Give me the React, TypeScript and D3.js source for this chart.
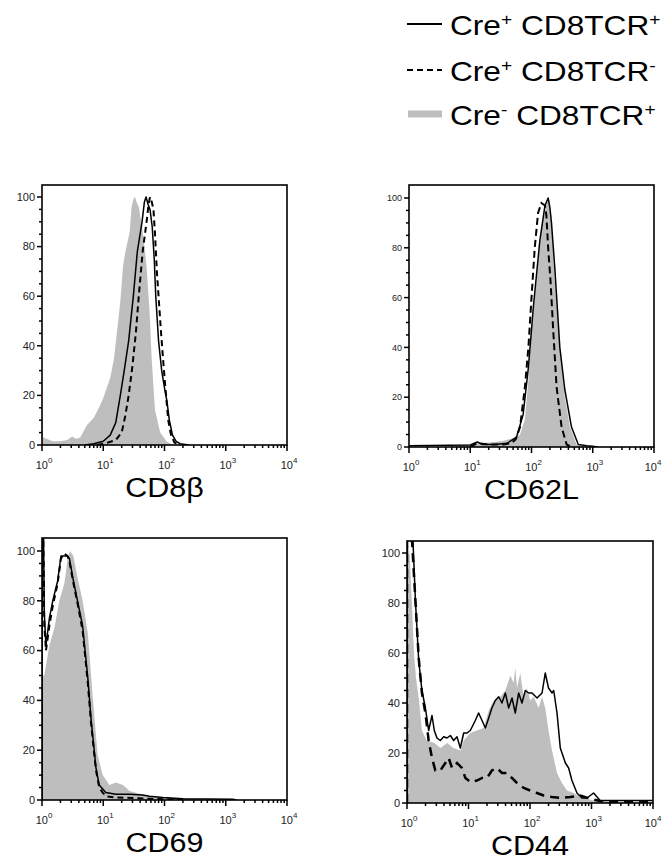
import React, { useEffect, useRef } from 'react';
import * as d3 from 'd3';

type Pt = [number, number];

// [fluorescence, % of max]
const cd8bGray: Pt[] = [[1, 0], [1, 15], [1.05, 3], [1.5, 1.5], [2, 1.5], [2.6, 2], [3.1, 3.4], [3.6, 2.5], [4.2, 3], [5.4, 8], [7, 11], [8.9, 16], [10, 19], [13, 27], [15, 35], [17, 47], [19, 58], [21, 72], [23, 78], [25, 82], [27, 86], [29, 96], [31, 99], [33, 100], [35, 98], [38, 96], [43, 88], [47, 80], [51, 72], [57, 54], [62, 34], [70, 14], [85, 5], [109, 1.3], [140, 0]];
const cd8bSolid: Pt[] = [[5, 0], [7, 0.5], [10, 1.5], [13, 4], [16, 9], [19, 20], [22, 30], [26, 42], [31, 60], [36, 78], [43, 90], [47, 98], [50, 100], [54, 97], [58, 95], [63, 88], [68, 75], [72, 60], [80, 42], [90, 30], [100, 23], [109, 18], [120, 10], [135, 4], [155, 1.5], [180, 0.5], [250, 0]];
const cd8bDashed: Pt[] = [[8, 0], [12, 1], [16, 2], [20, 5], [23, 12], [26, 20], [30, 32], [34, 45], [38, 60], [44, 78], [51, 90], [55, 97], [58, 100], [62, 98], [66, 95], [70, 85], [75, 70], [80, 60], [88, 45], [98, 30], [106, 20], [115, 10], [128, 4], [145, 1], [170, 0]];

const cd62lGray: Pt[] = [[5, 0], [6.7, 1], [10, 1], [15, 1.5], [25, 2], [35, 2.5], [50, 3.5], [57, 4], [65, 5], [78, 11], [89, 27], [100, 47], [121, 67], [145, 87], [176, 98], [195, 99], [212, 90], [240, 67], [290, 40], [350, 20], [425, 8], [545, 1], [700, 0]];
const cd62lSolid: Pt[] = [[1, 0.5], [10, 0.8], [13, 2], [16, 1], [25, 1], [40, 1.5], [57, 4], [73, 13], [89, 32], [107, 56], [137, 83], [166, 97], [187, 100], [200, 96], [212, 90], [240, 72], [290, 40], [350, 23], [450, 8], [580, 1], [800, 0.5], [1000, 0.3], [1200, 0]];
const cd62lDashed: Pt[] = [[10, 0], [13, 1.5], [20, 1], [35, 1], [47, 1.5], [55, 3], [65, 8], [78, 24], [89, 40], [100, 60], [113, 80], [128, 94], [145, 98], [166, 97], [175, 93], [187, 80], [204, 67], [226, 47], [257, 24], [310, 8], [375, 1], [450, 0]];

const cd69Gray: Pt[] = [[1, 0], [1, 50], [1.09, 50], [1.32, 62], [1.59, 69], [1.92, 80], [2.32, 87], [2.63, 97], [2.87, 100], [3.25, 98], [3.83, 89], [4.6, 80], [5.6, 67], [6.7, 42], [8.1, 18], [9.8, 10], [12.6, 6], [16, 7], [21, 6], [27, 3.6], [39, 2.5], [57, 1.6], [107, 1], [200, 0.5], [400, 0.2], [1000, 0]];
const cd69Solid: Pt[] = [[1, 0], [1, 106], [1.06, 106], [1.09, 75], [1.16, 62], [1.32, 73], [1.5, 80], [1.8, 88], [2.04, 98], [2.3, 98], [2.6, 98], [2.8, 97], [3.2, 89], [3.8, 80], [4.6, 70], [5.6, 49], [6.3, 33], [7.6, 13], [8.6, 6], [11, 3], [16, 2.3], [27, 2.3], [44, 2], [57, 1.5], [94, 1], [200, 0.5], [1300, 0.3], [1500, 0]];
const cd69Dashed: Pt[] = [[1, 0], [1, 106], [1.05, 106], [1.09, 70], [1.16, 60], [1.32, 70], [1.5, 78], [1.8, 87], [2.04, 97], [2.3, 99], [2.6, 98], [2.8, 96], [3.2, 88], [3.8, 79], [4.6, 68], [5.6, 47], [6.3, 31], [7.6, 12], [8.6, 5], [9.8, 3], [11, 1.5], [16, 1], [30, 0.8], [57, 0.5], [100, 0.3], [200, 0]];

const cd44Gray: Pt[] = [[1, 0], [1, 106], [1.1, 100], [1.2, 80], [1.3, 60], [1.4, 50], [1.55, 42], [1.75, 29], [2.1, 25], [2.8, 24], [3.5, 22], [4.5, 24], [5.7, 22], [7.4, 21], [8.35, 25], [10.7, 28], [13.7, 29], [17.6, 30], [21.3, 37], [25.7, 41], [33, 42.5], [39.7, 45], [48, 51], [54, 48], [57.6, 54], [61.5, 46], [69.5, 52], [79, 42], [89, 46], [101, 41], [115, 42.5], [138, 38], [157, 42.5], [177, 38], [200, 29], [228, 21], [275, 12], [331, 8], [400, 5], [512, 4], [657, 2.4], [845, 1.7], [1080, 1], [2000, 0.4], [4000, 0]];
const cd44Solid: Pt[] = [[1, 0], [1, 106], [1.15, 106], [1.25, 105], [1.37, 81], [1.55, 57], [1.75, 45], [1.99, 38], [2.25, 29], [2.55, 35], [2.78, 29], [3.07, 26], [3.48, 25], [3.95, 26.5], [4.47, 26], [5.07, 27], [5.74, 25], [6.5, 26.5], [7.36, 22], [8.35, 28], [9.5, 28], [10.7, 29], [12.9, 33], [14.6, 36], [16.6, 33], [18.8, 30], [21.3, 34], [24, 38], [27.3, 41], [31, 42.5], [35, 40], [39.7, 44], [45, 38], [51, 42], [57.6, 36], [65.4, 44], [74, 40], [84, 45], [95, 44], [108, 44], [130, 42], [157, 44], [177, 52], [200, 46], [228, 44], [243, 45], [275, 36], [311, 22], [376, 16], [425, 14], [481, 9], [580, 4], [700, 2], [845, 2], [1080, 4], [1380, 1], [2000, 1], [3770, 1], [10000, 1]];
const cd44Dashed: Pt[] = [[1, 0], [1, 106], [1.2, 106], [1.37, 81], [1.55, 58], [1.75, 44], [1.99, 36], [2.25, 25], [2.55, 18], [2.89, 13], [3.48, 13], [4.2, 16], [4.76, 18], [5.4, 14], [6.5, 16], [7.8, 14], [8.9, 10], [10.7, 8.4], [13.7, 9], [16.6, 10], [20, 10], [24, 13], [29, 14], [35, 12], [42, 12], [51, 10], [61.5, 8], [79, 6], [101, 5], [130, 4], [166, 3], [228, 2.4], [311, 2], [453, 2.4], [657, 3], [955, 1.7], [1380, 0.8], [2280, 0.4], [10000, 0.3]];

const yTicks = [0, 20, 40, 60, 80, 100];
const xExponents = [0, 1, 2, 3, 4];
const legendLabels = [
    ['Cre', '+', ' CD8TCR', '+'],
    ['Cre', '+', ' CD8TCR', '-'],
    ['Cre', '-', ' CD8TCR', '+']
];

const GRAY = '#bebebe';
const FONT = 'Liberation Sans, Arial, sans-serif';

const panels = [
    {title: 'CD8β', gray: cd8bGray, solid: cd8bSolid, dashed: cd8bDashed,
        left: 42, right: 287, top: 185, bottom: 445, y100: 197, yFont: 11, dash: '6,4', dashW: 2},
    {title: 'CD62L', gray: cd62lGray, solid: cd62lSolid, dashed: cd62lDashed,
        left: 409, right: 654, top: 185, bottom: 447, y100: 198, yFont: 9, dash: '7,4', dashW: 2},
    {title: 'CD69', gray: cd69Gray, solid: cd69Solid, dashed: cd69Dashed,
        left: 42, right: 287, top: 538, bottom: 800, y100: 551, yFont: 11, dash: '6,4', dashW: 2},
    {title: 'CD44', gray: cd44Gray, solid: cd44Solid, dashed: cd44Dashed,
        left: 407, right: 653, top: 541, bottom: 803, y100: 553, yFont: 11, dash: '9,6', dashW: 2.5}
];

export default function App() {
    const ref = useRef<SVGSVGElement>(null);

    useEffect(() => {
        const svg = d3.select(ref.current);
        svg.selectAll('*').remove();
        panels.forEach((p, i) => drawPanel(svg, p, i));
        drawLegend(svg);
    }, []);

    return (
        <svg ref={ref} width={662} height={863}
            style={{position: 'absolute', left: 0, top: 0, background: '#fff'}}/>
    );
}

function drawPanel(svg: any, p: any, i: number) {
    const ymax = 100 * (p.bottom - p.top) / (p.bottom - p.y100);
    const x = d3.scaleLog().domain([1, 1e4]).range([p.left, p.right]);
    const y = d3.scaleLinear().domain([0, ymax]).range([p.bottom, p.top]);

    const g = svg.append('g');
    g.append('clipPath').attr('id', 'clip' + i)
        .append('rect')
        .attr('x', p.left).attr('y', p.top)
        .attr('width', p.right - p.left).attr('height', p.bottom - p.top);

    const plot = g.append('g').attr('clip-path', `url(#clip${i})`);

    const area = d3.area<Pt>().x(d => x(d[0])).y0(y(0)).y1(d => y(d[1]));
    const line = d3.line<Pt>().x(d => x(d[0])).y(d => y(d[1]));

    plot.append('path').attr('d', area(p.gray)).attr('fill', GRAY);
    plot.append('path').attr('d', line(p.solid))
        .attr('fill', 'none').attr('stroke', '#000').attr('stroke-width', 1.5)
        .attr('stroke-linejoin', 'round');
    plot.append('path').attr('d', line(p.dashed))
        .attr('fill', 'none').attr('stroke', '#000').attr('stroke-width', p.dashW)
        .attr('stroke-dasharray', p.dash);

    g.append('rect')
        .attr('x', p.left).attr('y', p.top)
        .attr('width', p.right - p.left).attr('height', p.bottom - p.top)
        .attr('fill', 'none').attr('stroke', '#000').attr('stroke-width', 1.6);

    // y ticks: minor every 5, major every 20
    const minorY = d3.range(0, 101, 5);
    g.append('g').selectAll('line').data(minorY).join('line')
        .attr('x1', p.left).attr('x2', (d: number) => p.left - (d % 20 === 0 ? 5 : 3))
        .attr('y1', (d: number) => y(d)).attr('y2', (d: number) => y(d))
        .attr('stroke', '#000').attr('stroke-width', 1.5);
    g.append('g').selectAll('text').data(yTicks).join('text')
        .attr('x', p.left - 7).attr('y', (d: number) => y(d)).attr('dy', '0.35em')
        .attr('text-anchor', 'end')
        .attr('font-family', FONT).attr('font-size', p.yFont).attr('fill', '#222')
        .text((d: number) => d);

    // x ticks: decades and 2..9 within
    const majors = xExponents.map(e => Math.pow(10, e));
    const minors: number[] = [];
    xExponents.slice(0, 4).forEach(e => d3.range(2, 10).forEach(m => minors.push(m * Math.pow(10, e))));
    const allX = majors.map(v => ({v, len: 6})).concat(minors.map(v => ({v, len: 3})));
    g.append('g').selectAll('line').data(allX).join('line')
        .attr('x1', (d: any) => x(d.v)).attr('x2', (d: any) => x(d.v))
        .attr('y1', p.bottom).attr('y2', (d: any) => p.bottom + d.len)
        .attr('stroke', '#000').attr('stroke-width', 1.5);

    xExponents.forEach(e => {
        const cx = Math.min(x(Math.pow(10, e)) + 2, 653);
        const t = g.append('text')
            .attr('x', cx).attr('y', p.bottom + 24)
            .attr('text-anchor', 'middle')
            .attr('font-family', FONT)
            .attr('font-size', 11).attr('fill', '#222');
        t.append('tspan').text('10');
        t.append('tspan').attr('font-size', 8).attr('dy', -6).text(e);
    });

    g.append('text')
        .attr('transform', `translate(${(p.left + p.right) / 2},${p.bottom + 52}) scale(1.13,1)`)
        .attr('text-anchor', 'middle')
        .attr('font-family', FONT)
        .attr('font-size', 27).attr('fill', '#000')
        .text(p.title);
}

function drawLegend(svg: any) {
    const g = svg.append('g');
    const rowY = [24, 70, 114];
    legendLabels.forEach((parts, i) => {
        const yy = rowY[i];
        if (i === 0) {
            g.append('line').attr('x1', 407).attr('x2', 442).attr('y1', yy).attr('y2', yy)
                .attr('stroke', '#000').attr('stroke-width', 1.8);
        } else if (i === 1) {
            g.append('line').attr('x1', 407).attr('x2', 442).attr('y1', yy).attr('y2', yy)
                .attr('stroke', '#000').attr('stroke-width', 1.8).attr('stroke-dasharray', '6,4');
        } else {
            g.append('line').attr('x1', 408).attr('x2', 442).attr('y1', yy).attr('y2', yy)
                .attr('stroke', GRAY).attr('stroke-width', 7);
        }
        const t = g.append('text')
            .attr('transform', `translate(450,${yy + 11}) scale(1.13,1)`)
            .attr('font-family', FONT)
            .attr('font-size', 28).attr('fill', '#000');
        t.append('tspan').text(parts[0]);
        t.append('tspan').attr('font-size', 17).attr('dy', -10).text(parts[1]);
        t.append('tspan').attr('dy', 10).text(parts[2]);
        t.append('tspan').attr('font-size', 17).attr('dy', -10).text(parts[3]);
    });
}
